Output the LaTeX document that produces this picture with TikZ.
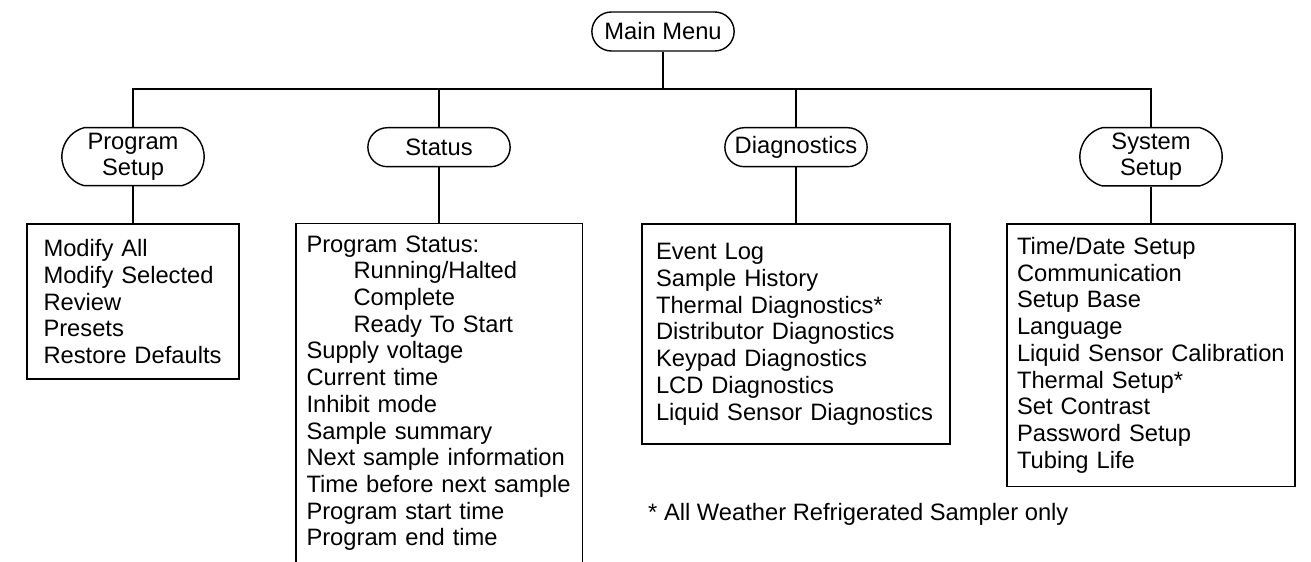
\documentclass[tikz,border=0pt]{standalone}
\usepackage{fontspec}
\setmainfont{Liberation Sans}
\usetikzlibrary{positioning}
\usetikzlibrary{shapes.misc, positioning}
\tikzstyle{menunode} = [draw, rounded rectangle, minimum width=3.08cm, minimum height=0.78cm, inner ysep=0.1cm, align=center, line width=0.8pt]
\tikzstyle{twoline} = [rounded rectangle arc length=150]
\tikzstyle{listbox} = [rectangle, align=left, line width=0.8pt]
\tikzstyle{link} = [line width=0.8pt]

\begin{document}
\begin{tikzpicture}[every node/.style={font={\fontsize{13.5}{15.2}\selectfont\hyphenpenalty10000\relax}}]
    \useasboundingbox (0,0) rectangle (26.22,-11.24);

    \node[menunode] (main) at (13.26,-0.63) {Main Menu};
    \coordinate (bar) at (13.26,-1.78);

    \node[menunode, twoline, anchor=north] (prog) at (2.66,-2.54) {Program\\Setup};
    \node[menunode, anchor=north] (stat) at (8.78,-2.54) {Status};
    \node[menunode, anchor=north] (diag) at (15.92,-2.54) {Diagnostics};
    \node[menunode, twoline, anchor=north] (sys) at (23.02,-2.54) {System\\Setup};

    \draw[link] (main.south) -- (bar);
    \draw[link] (prog.north) |- (bar) -| (sys.north);
    \draw[link] (stat.north) -- (stat.north |- bar);
    \draw[link] (diag.north) -- (diag.north |- bar);

    \node[listbox, draw, below=1.93cm of prog.north, inner xsep=0.33cm, text width=3.58cm, minimum height=3.1cm] (proglist)
        {Modify All\\Modify Selected\\Review\\Presets\\Restore Defaults};
    \draw[link] (prog.south) -- (proglist.north);

    \node[listbox, below=1.93cm of stat.north, inner xsep=0.2cm, text width=5.3cm, minimum height=6.76cm] (statlist)
        {Program Status:\\
         \hspace*{0.94cm}Running/Halted\\
         \hspace*{0.94cm}Complete\\
         \hspace*{0.94cm}Ready To Start\\
         Supply voltage\\Current time\\Inhibit mode\\Sample summary\\
         Next sample information\\Time before next sample\\
         Program start time\\Program end time};
    \draw[link] (statlist.south west) -- (statlist.north west) -- (statlist.north east) -- (statlist.south east);
    \draw[link] (stat.south) -- (statlist.north);

    \node[listbox, draw, below=1.93cm of diag.north, inner xsep=0.28cm, text width=5.6cm, minimum height=4.4cm] (diaglist)
        {Event Log\\Sample History\\Thermal Diagnostics*\\Distributor Diagnostics\\
         Keypad Diagnostics\\LCD Diagnostics\\Liquid Sensor Diagnostics};
    \draw[link] (diag.south) -- (diaglist.north);

    \node[listbox, draw, below=1.93cm of sys.north, inner xsep=0.2cm, text width=5.36cm, minimum height=5.24cm] (syslist)
        {Time/Date Setup\\Communication\\Setup Base\\Language\\Liquid Sensor Calibration\\
         Thermal Setup*\\Set Contrast\\Password Setup\\Tubing Life};
    \draw[link] (sys.south) -- (syslist.north);

    \node[anchor=west] (note) at (12.84,-10.28) {* All Weather Refrigerated Sampler only};
\end{tikzpicture}
\end{document}
